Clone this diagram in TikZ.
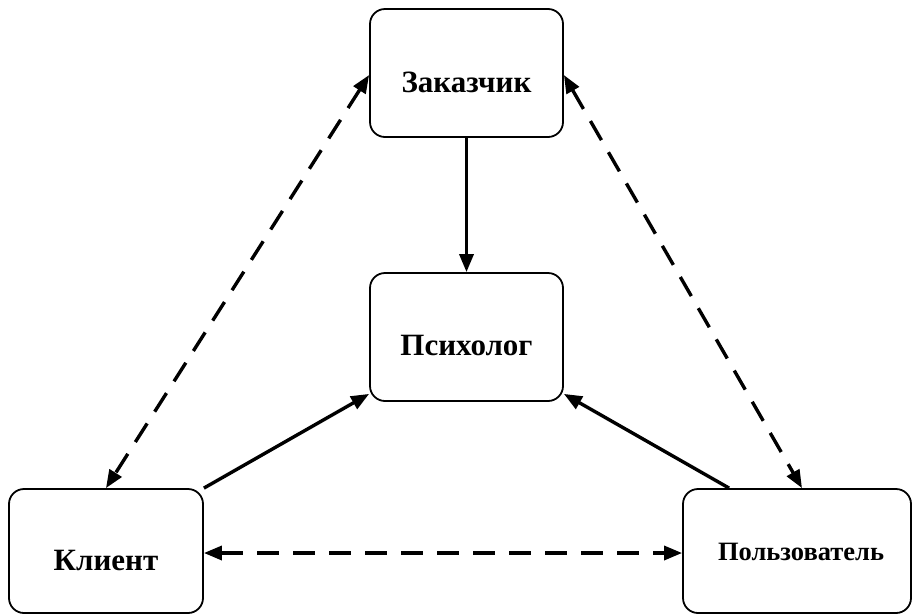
\documentclass[tikz,border=0pt]{standalone}
\usepackage{fontspec}
\setmainfont{Liberation Serif}
\usetikzlibrary{arrows.meta}
\begin{document}
\begin{tikzpicture}[x=1pt,y=-1pt,
  box/.style={draw,line width=1.8pt,rounded corners=15pt,inner sep=0pt,
    font=\bfseries\fontsize{31}{36}\selectfont,text depth=0pt,text height=38pt},
  conn/.style={line width=3.4pt,-{Triangle[length=18pt,width=14pt]}},
  bidash/.style={line width=3.4pt,{Triangle[length=18pt,width=14pt]}-{Triangle[length=18pt,width=14pt]},dash pattern=on 22pt off 14pt}]
\useasboundingbox (0,0) rectangle (912,614);
\node[box,minimum width=193pt,minimum height=128pt] (zak) at (466.5,73) {Заказчик};
\node[box,minimum width=193pt,minimum height=128pt,text height=36pt] (psy) at (466.5,337) {Психолог};
\node[box,minimum width=194pt,minimum height=124pt] (kl) at (106,551) {Клиент};
\node[box,minimum width=228pt,minimum height=124pt,text height=18pt,
  font=\bfseries\fontsize{26.5}{30}\selectfont] (pol) at (797,551) {\hspace*{8pt}Пользователь};
\coordinate (zakW) at ([yshift=-2pt]zak.west);
\coordinate (zakE) at ([yshift=-2pt]zak.east);
\coordinate (polN) at ([xshift=5pt]pol.north);
\coordinate (polS) at ([xshift=47pt]pol.north west);
\coordinate (psySW) at ([yshift=8pt]psy.south west);
\coordinate (psySE) at ([yshift=8pt]psy.south east);
\draw[bidash] (zakW) -- (kl.north);
\draw[bidash] (zakE) -- (polN);
\draw[conn] (zak.south) -- (psy.north);
\draw[conn] (kl.north east) -- (psySW);
\draw[conn] (polS) -- (psySE);
\draw[bidash] ([yshift=-2pt]kl.east) -- ([yshift=-2pt]pol.west);
\end{tikzpicture}
\end{document}
